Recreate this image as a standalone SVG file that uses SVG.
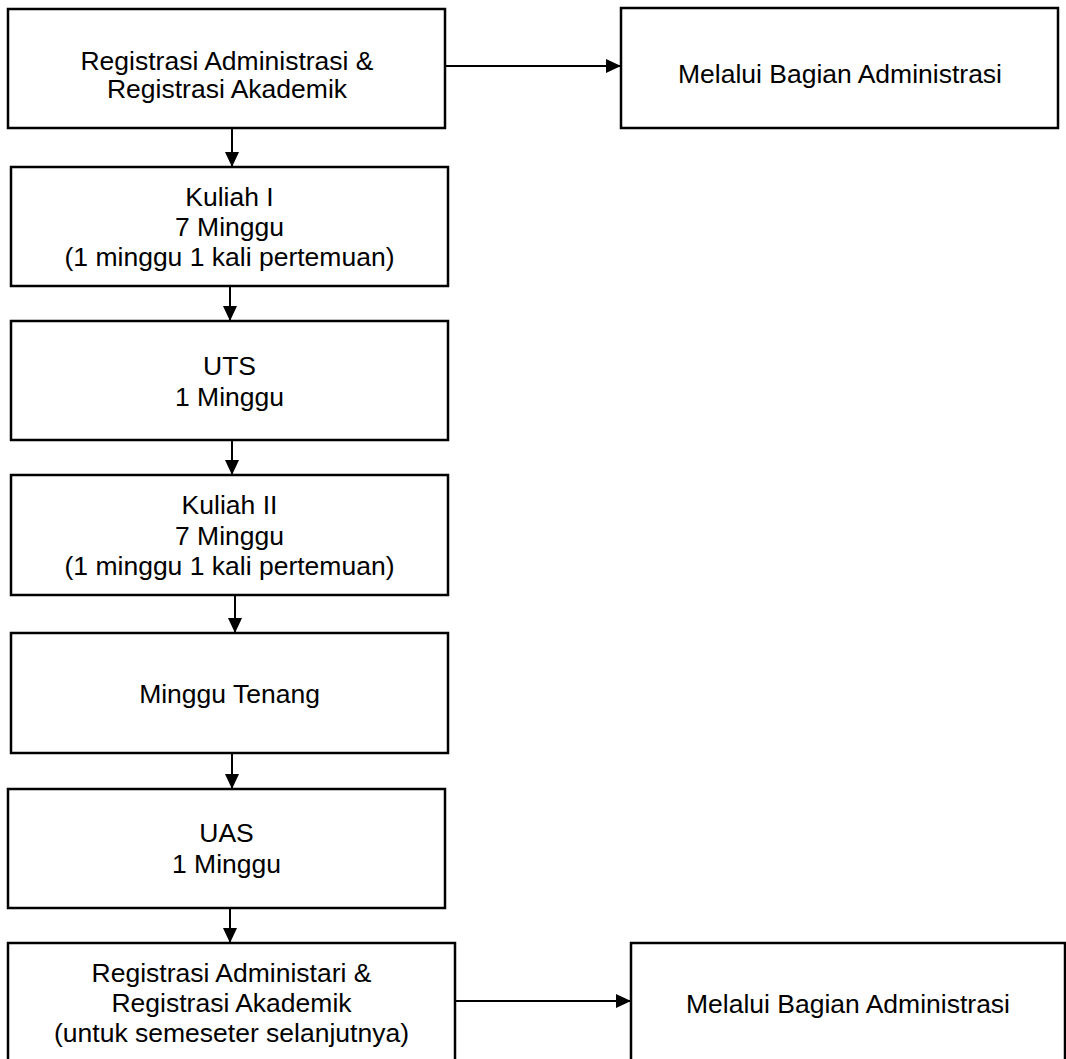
<svg xmlns="http://www.w3.org/2000/svg" width="1066" height="1059" viewBox="0 0 1066 1059">
<defs>
<marker id="ah" markerUnits="userSpaceOnUse" markerWidth="15" markerHeight="14" refX="15" refY="7" orient="auto">
<path d="M0,0 L15,7 L0,14 Z" fill="#000"/>
</marker>
<style>
.box{fill:#fff;stroke:#000;stroke-width:2.5}
.t{font-family:"Liberation Sans",Arial,sans-serif;font-size:26.5px;fill:#000;text-anchor:middle}
.c{stroke:#000;stroke-width:2;fill:none;marker-end:url(#ah)}
</style>
</defs>
<rect width="1066" height="1059" fill="#fff"/>
<g id="connectors">
<line class="c" x1="445" y1="66" x2="621" y2="66"/>
<line class="c" x1="232" y1="128" x2="232" y2="167"/>
<line class="c" x1="230" y1="286" x2="230" y2="321"/>
<line class="c" x1="232" y1="440" x2="232" y2="475"/>
<line class="c" x1="235" y1="595" x2="235" y2="633"/>
<line class="c" x1="232" y1="753" x2="232" y2="789"/>
<line class="c" x1="230" y1="908" x2="230" y2="943"/>
<line class="c" x1="455" y1="1001" x2="631" y2="1001"/>
</g>
<g id="reg1">
<rect class="box" x="8" y="9" width="437" height="119"/>
<text class="t" x="227" y="70">Registrasi Administrasi &amp;</text>
<text class="t" x="227" y="98">Registrasi Akademik</text>
</g>
<g id="admin1">
<rect class="box" x="621" y="8" width="437" height="120"/>
<text class="t" x="840" y="83">Melalui Bagian Administrasi</text>
</g>
<g id="kuliah1">
<rect class="box" x="11" y="167" width="437" height="119"/>
<text class="t" x="229.5" y="206">Kuliah I</text>
<text class="t" x="229.5" y="236">7 Minggu</text>
<text class="t" x="229.5" y="266">(1 minggu 1 kali pertemuan)</text>
</g>
<g id="uts">
<rect class="box" x="11" y="321" width="437" height="119"/>
<text class="t" x="229.5" y="375">UTS</text>
<text class="t" x="229.5" y="406">1 Minggu</text>
</g>
<g id="kuliah2">
<rect class="box" x="11" y="475" width="437" height="120"/>
<text class="t" x="229.5" y="514">Kuliah II</text>
<text class="t" x="229.5" y="545">7 Minggu</text>
<text class="t" x="229.5" y="575">(1 minggu 1 kali pertemuan)</text>
</g>
<g id="tenang">
<rect class="box" x="11" y="633" width="437" height="120"/>
<text class="t" x="229.5" y="703">Minggu Tenang</text>
</g>
<g id="uas">
<rect class="box" x="8" y="789" width="437" height="119"/>
<text class="t" x="226.5" y="842">UAS</text>
<text class="t" x="226.5" y="873">1 Minggu</text>
</g>
<g id="reg2">
<rect class="box" x="8" y="943" width="447" height="130"/>
<text class="t" x="231.5" y="982">Registrasi Administari &amp;</text>
<text class="t" x="231.5" y="1012">Registrasi Akademik</text>
<text class="t" x="231.5" y="1042">(untuk semeseter selanjutnya)</text>
</g>
<g id="admin2">
<rect class="box" x="631" y="943" width="434" height="130"/>
<text class="t" x="848" y="1013">Melalui Bagian Administrasi</text>
</g>
</svg>
